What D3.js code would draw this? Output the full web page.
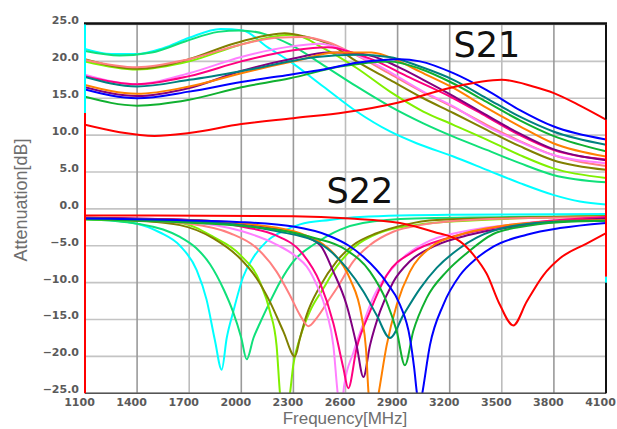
<!DOCTYPE html>
<html><head><meta charset="utf-8">
<script src="https://cdn.jsdelivr.net/npm/d3@7"></script>
<style>body{margin:0;background:#fff}svg{display:block}</style>
</head><body><svg id="c" width="617" height="429"></svg>
<script>
// ---- data ----
const xTicks = [1100,1400,1700,2000,2300,2600,2900,3200,3500,3800,4100];
const yTicks = [25,20,15,10,5,0,-5,-10,-15,-20,-25];
const seriesNames = ["cyan","springgreen","lime","olive","salmon","violet","magenta","purple","orange","teal","green","blue","red"];
const seriesColors = ["#00ffff","#10e07a","#80f000","#808000","#ff8080","#ff80ff","#ff0080","#800080","#ff8000","#008080","#10b030","#0000ff","#ff0000"];

// S21 curves [MHz, dB]
const s21Cyan = [[1100,21.7],[1250,21.0],[1400,21.0],[1550,21.8],[1700,23.2],[1880,24.4],[2010,24.2],[2146,22.0],[2280,20.0],[2472,16.6],[2664,13.2],[2856,10.5],[3009,8.9],[3221,7.1],[3413,5.3],[3604,3.5],[3796,1.9],[3950,1.0],[4100,0.6]];
const s21Spring = [[1100,21.4],[1300,20.8],[1484,21.2],[1676,22.7],[1867,24.0],[1990,24.2],[2136,23.7],[2280,22.3],[2472,19.5],[2664,16.6],[2856,13.9],[3048,11.6],[3221,9.8],[3413,8.0],[3604,6.2],[3796,4.6],[4100,3.6]];
const s21Lime = [[1100,20.0],[1400,18.9],[1700,20.0],[2000,22.3],[2200,23.4],[2300,23.6],[2472,21.8],[2664,19.1],[2856,15.9],[3048,13.2],[3221,11.4],[3413,9.4],[3604,7.3],[3796,5.5],[4100,4.2]];
const s21Olive = [[1100,20.3],[1400,19.0],[1685,20.2],[1954,22.4],[2146,23.5],[2250,23.8],[2360,23.4],[2510,22.3],[2664,20.0],[2856,17.5],[3048,15.0],[3221,13.0],[3413,10.7],[3604,8.5],[3796,6.6],[4100,5.3]];
const s21Salmon = [[1100,20.2],[1400,19.2],[1700,20.3],[2000,22.3],[2200,23.2],[2350,23.3],[2500,22.6],[2664,20.8],[2856,18.3],[3048,15.8],[3221,13.8],[3413,11.4],[3604,9.2],[3796,7.3],[4100,5.8]];
const s21Violet = [[1100,18.2],[1400,16.9],[1700,18.4],[2000,20.6],[2280,22.0],[2450,22.4],[2600,21.5],[2800,19.3],[3048,15.9],[3221,13.9],[3413,11.2],[3604,9.1],[3796,7.3],[4100,6.2]];
const s21Magenta = [[1100,18.0],[1400,16.9],[1700,18.0],[2000,20.0],[2300,21.5],[2500,21.9],[2650,21.1],[2760,20.2],[2952,18.0],[3221,15.0],[3413,12.5],[3604,10.0],[3796,8.0],[4100,6.7]];
const s21Purple = [[1100,16.5],[1400,15.3],[1700,16.4],[2000,18.7],[2300,20.4],[2500,21.2],[2700,21.0],[2900,19.3],[3048,17.5],[3221,15.3],[3413,12.7],[3604,10.2],[3796,8.1],[4100,6.6]];
const s21Orange = [[1100,16.8],[1400,15.6],[1700,16.6],[2000,18.4],[2300,20.0],[2550,21.2],[2750,21.2],[2900,20.1],[3029,18.6],[3221,16.4],[3413,13.7],[3604,11.2],[3796,8.9],[4100,7.1]];
const s21Teal = [[1100,17.9],[1400,16.6],[1700,17.5],[2050,18.9],[2434,20.6],[2664,20.9],[2850,20.6],[3029,19.3],[3221,17.5],[3413,15.0],[3604,12.5],[3796,10.5],[4100,8.7]];
const s21Green = [[1100,15.2],[1400,14.0],[1700,14.8],[2000,16.5],[2280,17.7],[2568,19.3],[2856,20.0],[3029,19.0],[3221,17.0],[3413,14.5],[3604,12.0],[3796,9.9],[4100,7.8]];
const s21Blue = [[1100,16.2],[1400,15.0],[1700,15.9],[2000,17.2],[2280,18.2],[2472,18.9],[2664,19.8],[2914,20.3],[3029,20.0],[3221,18.4],[3413,16.1],[3604,13.4],[3796,11.2],[4100,9.4]];
const s21Red = [[1100,11.4],[1300,10.4],[1500,9.9],[1700,10.3],[2000,11.5],[2300,12.3],[2600,13.1],[2900,14.4],[3200,16.4],[3500,17.5],[3680,16.6],[3800,15.7],[3950,14.0],[4100,12.1]];

// S22 curves [MHz, dB]
const s22Cyan = [[1100,-1.3],[1378,-1.9],[1532,-3.2],[1647,-5.0],[1743,-8.3],[1800,-12.3],[1848,-17.8],[1887,-21.8],[1916,-17.5],[1954,-13.9],[2011,-9.2],[2069,-6.6],[2146,-4.4],[2242,-3.0],[2338,-2.1],[2510,-1.5],[2683,-1.1],[3200,-0.8],[4100,-0.7]];
const s22Spring = [[1100,-1.4],[1400,-2.0],[1550,-2.8],[1647,-3.8],[1740,-5.3],[1820,-7.5],[1900,-11.0],[1950,-13.8],[2000,-17.5],[2031,-20.4],[2070,-17.5],[2107,-15.5],[2165,-12.6],[2223,-9.9],[2300,-7.1],[2420,-4.8],[2570,-2.8],[2700,-1.9],[3000,-1.3],[4100,-1.0]];
const s22Lime = [[1100,-1.4],[1400,-1.6],[1647,-1.9],[1839,-3.8],[1992,-6.2],[2107,-9.9],[2165,-13.9],[2203,-18.5],[2223,-25.1],[2250,-29],[2280,-25.1],[2299,-21.2],[2338,-17.5],[2395,-13.9],[2472,-10.8],[2550,-7.8],[2650,-5.2],[2800,-3.2],[3000,-2.2],[3300,-1.6],[4100,-1.0]];
const s22Olive = [[1100,-1.3],[1400,-1.6],[1647,-2.2],[1839,-4.0],[1992,-6.7],[2088,-9.4],[2165,-12.6],[2242,-16.6],[2309,-20.0],[2338,-17.5],[2376,-14.4],[2453,-10.5],[2549,-7.1],[2645,-4.9],[2779,-3.3],[2933,-2.2],[3125,-1.5],[4100,-1.0]];
const s22Salmon = [[1100,-1.3],[1400,-1.5],[1700,-2.0],[1935,-3.3],[2088,-5.3],[2203,-8.5],[2280,-11.7],[2338,-14.4],[2386,-15.9],[2434,-14.8],[2500,-12.5],[2549,-10.8],[2645,-7.1],[2741,-4.9],[2875,-3.1],[3029,-2.2],[3400,-1.4],[4100,-1.1]];
const s22Violet = [[1100,-1.3],[1700,-1.8],[2000,-3.0],[2200,-4.8],[2318,-6.5],[2376,-7.8],[2434,-10.3],[2491,-14.0],[2530,-18.5],[2555,-25],[2572,-28],[2592,-24],[2645,-19.5],[2703,-15.5],[2760,-12.0],[2837,-9.0],[2952,-6.2],[3086,-4.3],[3316,-2.9],[3600,-2.0],[4100,-1.2]];
const s22Magenta = [[1100,-1.2],[1700,-1.5],[2000,-2.4],[2200,-3.6],[2350,-6.0],[2453,-10.0],[2530,-15.5],[2587,-21.5],[2616,-24.3],[2664,-18.9],[2741,-13.9],[2837,-9.0],[2990,-5.8],[3182,-4.0],[3400,-2.8],[3700,-1.8],[4100,-1.1]];
const s22Purple = [[1100,-1.2],[1800,-1.6],[2100,-2.3],[2300,-3.2],[2453,-4.9],[2530,-8.5],[2606,-13.0],[2664,-18.5],[2703,-22.8],[2741,-18.5],[2799,-13.9],[2875,-9.9],[2971,-7.1],[3125,-4.9],[3316,-3.5],[3600,-2.3],[4100,-1.3]];
const s22Orange = [[1100,-1.3],[1800,-1.6],[2100,-2.2],[2338,-3.3],[2453,-4.5],[2530,-6.0],[2626,-9.5],[2693,-14.6],[2718,-19],[2733,-25.1],[2760,-29],[2790,-25.1],[2837,-18.5],[2895,-13.0],[2971,-8.5],[3086,-5.3],[3259,-3.5],[3500,-2.3],[3800,-1.7],[4100,-1.5]];
const s22Teal = [[1100,-1.3],[1800,-1.8],[2200,-3.0],[2453,-4.7],[2606,-8.0],[2703,-11.2],[2779,-14.4],[2856,-17.5],[2933,-14.4],[3029,-10.8],[3125,-8.0],[3259,-5.3],[3355,-3.9],[3547,-2.4],[3835,-1.7],[4100,-1.6]];
const s22Green = [[1100,-1.4],[2000,-2.3],[2400,-3.8],[2600,-5.5],[2741,-8.5],[2837,-12.6],[2895,-16.6],[2942,-21.2],[2990,-16.6],[3067,-12.1],[3182,-8.5],[3298,-6.0],[3451,-3.4],[3650,-2.3],[3900,-1.7],[4100,-1.6]];
const s22Blue = [[1100,-1.3],[2000,-1.8],[2300,-2.4],[2500,-3.6],[2620,-5.0],[2703,-6.5],[2837,-10.0],[2914,-13.0],[2971,-17.5],[2995,-21.5],[3013,-25.3],[3026,-27],[3040,-25.3],[3086,-18.5],[3163,-13.0],[3259,-9.0],[3355,-6.7],[3451,-5.1],[3643,-3.5],[3835,-2.6],[4100,-1.9]];
const s22Red = [[1100,-0.9],[1500,-0.9],[2300,-1.0],[2626,-1.3],[2914,-1.9],[3106,-3.1],[3259,-4.4],[3336,-6.2],[3413,-8.8],[3489,-13.0],[3566,-15.8],[3643,-12.6],[3739,-9.0],[3835,-6.7],[3988,-4.7],[4100,-3.3]];

const s21Series = [s21Cyan,s21Spring,s21Lime,s21Olive,s21Salmon,s21Violet,s21Magenta,s21Purple,s21Orange,s21Teal,s21Green,s21Blue,s21Red];
const s22Series = [s22Cyan,s22Spring,s22Lime,s22Olive,s22Salmon,s22Violet,s22Magenta,s22Purple,s22Orange,s22Teal,s22Green,s22Blue,s22Red];

// colored edge segments of the plot frame [color index or -1 for black, from dB, to dB]
const leftEdge = [[0,25,13],[12,13,-25]];
const rightEdge = [[-1,25,12.1],[12,12.1,-9.2],[0,-9.2,-10],[-1,-10,-25]];

// ---- drawing ----
const svg = d3.select("#c");
const L=85, R=606, T=24.5, B=393.3;
const x = d3.scaleLinear().domain([1100,4100]).range([L,R]);
const y = d3.scaleLinear().domain([-25,25]).range([B,T]);

svg.append("defs").append("clipPath").attr("id","clip")
  .append("rect").attr("x",L).attr("y",T).attr("width",R-L).attr("height",B-T);

// grid
svg.append("g").selectAll("line").data(yTicks).join("line")
  .attr("x1",L).attr("x2",R).attr("y1",d=>y(d)).attr("y2",d=>y(d))
  .attr("stroke","#c4c4c4").attr("stroke-width",1.6);
svg.append("g").selectAll("line").data(xTicks).join("line")
  .attr("x1",d=>x(d)).attr("x2",d=>x(d)).attr("y1",T).attr("y2",B)
  .attr("stroke",(d,i)=> (i%3===2)?"#bdbdbd":"#9a9a9a").attr("stroke-width",1.6);

// axes (labels only)
const fontTick = "'DejaVu Sans', sans-serif";
const yAxis = d3.axisLeft(y).tickValues(yTicks).tickFormat(d3.format(".1f")).tickSize(0).tickPadding(6);
const gy = svg.append("g").attr("transform",`translate(${L},0)`).call(yAxis);
gy.select(".domain").remove();
gy.selectAll("text").attr("font-family",fontTick).attr("font-size",11).attr("font-weight","bold")
  .attr("fill","#5a5a5a").attr("dy","-0.05em");
const xAxis = d3.axisBottom(x).tickValues(xTicks).tickFormat(d3.format("d")).tickSize(0).tickPadding(5);
const gx = svg.append("g").attr("transform",`translate(0,${B})`).call(xAxis);
gx.select(".domain").remove();
gx.selectAll("text").attr("font-family",fontTick).attr("font-size",11).attr("font-weight","bold")
  .attr("fill","#5a5a5a").attr("dx",-6);

// lines
const line = d3.line().x(d=>x(d[0])).y(d=>y(d[1])).curve(d3.curveMonotoneX);
const gl = svg.append("g").attr("clip-path","url(#clip)");
[s21Series, s22Series].forEach(group=>{
  gl.append("g").selectAll("path").data(group).join("path")
    .attr("d",line).attr("fill","none")
    .attr("stroke",(d,i)=>seriesColors[i]).attr("stroke-width",2)
    .attr("stroke-linejoin","round");
});

// frame
svg.append("line").attr("x1",L-1).attr("x2",R+1).attr("y1",T-1).attr("y2",T-1).attr("stroke","#111").attr("stroke-width",2.5);
svg.append("line").attr("x1",L).attr("x2",R).attr("y1",B).attr("y2",B).attr("stroke","#555").attr("stroke-width",1.5);
const colorOf = i => i<0 ? "#111" : seriesColors[i];
svg.append("g").selectAll("line").data(leftEdge).join("line")
  .attr("x1",L).attr("x2",L).attr("y1",d=>y(d[1])).attr("y2",d=>y(d[2]))
  .attr("stroke",d=>colorOf(d[0])).attr("stroke-width",2);
svg.append("g").selectAll("line").data(rightEdge).join("line")
  .attr("x1",R).attr("x2",R).attr("y1",d=>y(d[1])).attr("y2",d=>y(d[2]))
  .attr("stroke",d=>colorOf(d[0])).attr("stroke-width",2);

// labels
svg.append("text").attr("x",487).attr("y",57).attr("text-anchor","middle")
  .attr("font-family","'DejaVu Sans', sans-serif").attr("font-size",35).attr("fill","#111").text("S21");
svg.append("text").attr("x",360).attr("y",203).attr("text-anchor","middle")
  .attr("font-family","'DejaVu Sans', sans-serif").attr("font-size",35).attr("fill","#111").text("S22");
svg.append("text").attr("x",345).attr("y",424).attr("text-anchor","middle")
  .attr("font-family","'Liberation Sans', Arial, sans-serif").attr("font-size",17).attr("fill","#6e6e6e").text("Frequency[MHz]");
svg.append("text").attr("transform","translate(27,200) rotate(-90)").attr("text-anchor","middle")
  .attr("font-family","'Liberation Sans', Arial, sans-serif").attr("font-size",18).attr("fill","#6e6e6e").text("Attenuation[dB]");
</script></body></html>
